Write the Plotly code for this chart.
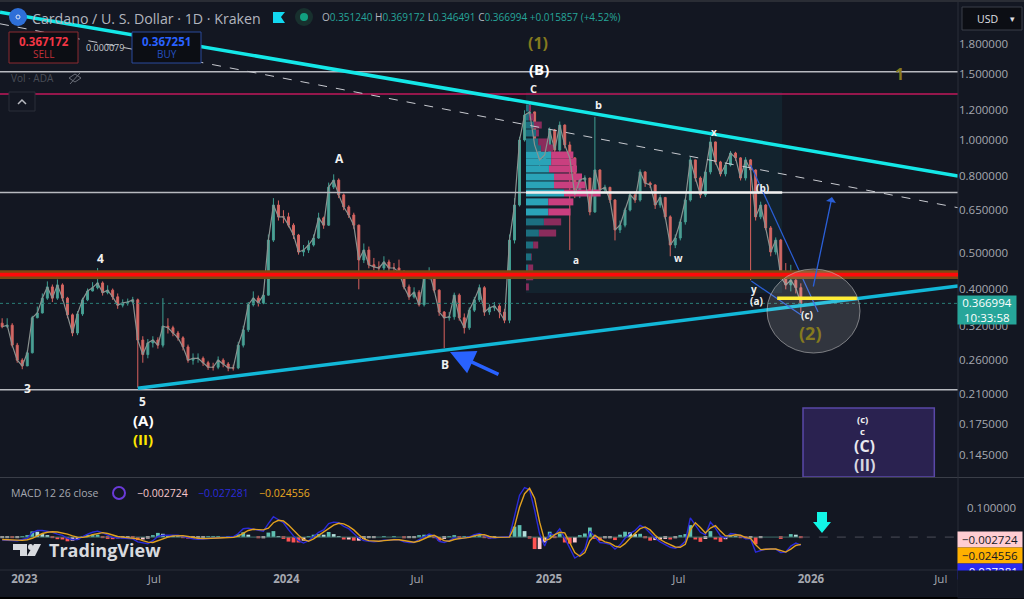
import pandas as pd
import plotly.graph_objects as go

BG = "#131722"
FONT = "Open Sans"
AXIS_TEXT = "#a5a8b0"

# weekly candles
first_week = "2022-12-01"
closes = [
    .318, .321, .284, .259, .250, .271, .336, .346, .379, .406,
    .379, .411, .379, .342, .306, .344, .375, .396, .404, .416,
    .392, .398, .382, .363, .368, .370, .375, .293, .268, .288,
    .293, .284, .319, .316, .306, .297, .281, .259, .262, .262,
    .255, .248, .248, .259, .253, .247, .247, .284, .312, .364,
    .379, .368, .386, .541, .671, .624, .624, .593, .558, .503,
    .509, .525, .548, .620, .593, .749, .782, .714, .663, .631,
    .593, .479, .509, .465, .459, .456, .473, .456, .456, .444,
    .406, .382, .393, .364, .429, .444, .398, .348, .336, .338,
    .386, .336, .316, .352, .375, .404, .348, .357, .361, .348,
    .331, .541, .671, 1.0, 1.165, 1.188, .970, .885, .912, 1.063,
    .940, 1.096, .970, .896, .714, .782, .792, .643, .832, .736,
    .748, .692, .576, .593, .651, .714, .692, .822, .768, .759,
    .671, .703, .624, .525, .548, .605, .692, .885, .792, .714,
    .822, .988, .874, .812, .858, .923, .896, .792, .885, .832,
    .624, .671, .583, .503, .541, .432, .411, .423, .404, .367,
]
highs = [
    .335, .335, .325, .288, .262, .275, .340, .360, .390, .420,
    .412, .425, .415, .382, .345, .350, .380, .402, .418, .456,
    .420, .410, .402, .390, .376, .378, .382, .378, .300, .295,
    .300, .298, .379, .335, .320, .310, .300, .285, .270, .270,
    .265, .258, .255, .265, .262, .256, .252, .290, .320, .370,
    .395, .385, .395, .560, .700, .690, .650, .640, .600, .562,
    .525, .540, .560, .640, .625, .770, .810, .790, .720, .670,
    .640, .595, .530, .520, .485, .475, .490, .480, .470, .480,
    .450, .412, .405, .398, .435, .458, .448, .400, .350, .348,
    .392, .390, .345, .358, .382, .412, .408, .365, .370, .365,
    .355, .560, .700, 1.02, 1.20, 1.255, 1.19, .970, .925, 1.08,
    1.07, 1.12, 1.10, .990, .900, .800, .805, .792, 1.152, .835,
    .760, .750, .695, .610, .660, .725, .730, .835, .825, .775,
    .762, .715, .705, .630, .560, .615, .700, .900, .885, .800,
    .830, 1.02, .990, .880, .870, .935, .930, .900, .900, .890,
    .835, .685, .675, .590, .550, .545, .470, .465, .430, .415,
]
lows = [
    .315, .316, .280, .255, .245, .250, .270, .335, .345, .375,
    .370, .375, .372, .335, .300, .302, .340, .372, .395, .400,
    .385, .388, .375, .355, .358, .362, .365, .219, .255, .262,
    .280, .278, .280, .305, .300, .292, .275, .255, .252, .255,
    .250, .244, .243, .245, .248, .242, .243, .245, .280, .308,
    .360, .360, .365, .385, .535, .610, .600, .585, .545, .495,
    .490, .500, .520, .545, .580, .590, .740, .700, .650, .620,
    .580, .400, .470, .455, .450, .445, .450, .445, .445, .435,
    .400, .375, .378, .360, .360, .425, .392, .340, .279, .330,
    .332, .330, .305, .312, .348, .370, .340, .342, .350, .335,
    .325, .325, .530, .665, .990, 1.13, .950, .850, .870, .905,
    .925, .930, .950, .509, .700, .700, .770, .630, .640, .725,
    .725, .680, .540, .565, .585, .645, .680, .685, .750, .745,
    .655, .660, .615, .490, .515, .540, .595, .685, .775, .700,
    .705, .810, .860, .800, .800, .850, .880, .780, .780, .423,
    .610, .615, .575, .490, .495, .425, .400, .395, .390, .346,
]
opens = [.325] + closes[:-1]

macd_line = [
    -.010, -.010, -.012, -.012, -.008, -.004, .015, .022, .022, .020,
    .016, .010, .006, -.004, -.008, -.008, .002, .010, .016, .020,
    .014, .006, -.001, -.002, -.003, -.004, -.006, -.016, -.020, -.022,
    -.012, .002, .006, .006, .008, .006, .002, -.003, -.006, -.007,
    -.006, -.004, -.003, -.002, -.002, -.001, .001, .012, .028, .030,
    .026, .022, .020, .045, .068, .058, .048, .025, .004, -.012,
    -.020, -.012, .002, .016, .024, .045, .050, .048, .036, .028,
    .012, -.004, -.012, -.014, -.016, -.014, -.010, -.010, -.008, -.009,
    -.016, -.018, -.018, -.008, .002, .010, .004, -.014, -.018, -.012,
    -.002, -.006, -.003, .001, .008, .012, .006, -.003, -.002, -.001,
    .000, .002, .070, .140, .165, .158, .090, .010, -.030, .012,
    .006, .028, -.004, -.040, -.070, -.060, -.040, .020, .000, -.018,
    -.020, -.024, -.040, -.026, -.004, .012, .022, .039, .030, .012,
    -.004, -.016, -.024, -.034, -.037, -.030, -.014, .064, .040, .016,
    .008, .050, .030, .004, -.003, .012, .010, .004, -.006, -.006,
    -.050, -.044, -.040, -.040, -.040, -.052, -.050, -.030, -.020, -.027281,
]
signal_line = [
    -.008, -.009, -.010, -.011, -.011, -.009, -.004, .004, .012, .016,
    .018, .017, .014, .010, .004, .000, -.001, .002, .008, .012,
    .015, .012, .006, .002, .000, -.002, -.003, -.006, -.012, -.017,
    -.018, -.012, -.005, .000, .004, .005, .005, .002, -.002, -.004,
    -.005, -.005, -.004, -.003, -.002, -.002, -.001, .003, .012, .022,
    .026, .026, .024, .030, .048, .056, .054, .040, .022, .006,
    -.008, -.014, -.006, .006, .016, .028, .040, .046, .044, .036,
    .024, .008, -.006, -.012, -.014, -.014, -.012, -.010, -.009, -.009,
    -.012, -.015, -.017, -.013, -.006, .002, .006, -.002, -.012, -.014,
    -.008, -.005, -.004, -.001, .004, .008, .008, .002, -.001, -.001,
    .000, .000, .035, .100, .145, .163, .130, .050, -.012, -.006,
    .008, .016, .014, -.018, -.052, -.064, -.052, -.012, .006, -.006,
    -.016, -.020, -.030, -.034, -.022, -.004, .012, .028, .034, .024,
    .006, -.008, -.018, -.026, -.033, -.034, -.024, .024, .048, .032,
    .014, .030, .038, .020, .004, .004, .008, .006, -.002, -.004,
    -.026, -.042, -.040, -.040, -.040, -.046, -.050, -.040, -.028, -.024556,
]

# fixed range volume profile, rows top to bottom, width in days on the time axis
vp_prices = [1.217, 1.151, 1.096, 1.044, .988, .952, .912, .874, .837, .797, .759,
             .722, .684, .643, .605, .565, .525, .488, .456, .432, .406]
vp_up = [4, 4, 11, 14, 17, 21, 35, 35, 32, 39, 39, 53, 31, 31, 25, 18, 10, 7, 3, 0, 0]
vp_down = [3, 7, 11, 4, 15, 17, 31, 35, 39, 39, 44, 51, 35, 31, 24, 24, 7, 1, 7, 10, 4]
vp_start = "2024-11-30"
vp_end = "2025-11-22"

price_ticks = [1.8, 1.5, 1.2, 1.0, .8, .65, .5, .4, .32, .26, .21, .175, .145]
time_ticks = ["2023-01-01", "2023-07-01", "2024-01-01", "2024-07-01",
              "2025-01-01", "2025-07-01", "2026-01-01", "2026-07-01"]
time_labels = ["<b>2023</b>", "Jul", "<b>2024</b>", "Jul", "<b>2025</b>", "Jul", "<b>2026</b>", "Jul"]

start, end = "2022-11-28", "2026-07-25"
upper_trend_dates, upper_trend_prices = [start, end], [2.19, .802]
dashed_trend_dates, dashed_trend_prices = [start, end], [2.04, .66]
lower_trend_dates, lower_trend_prices = ["2023-06-08", end], [.218, .408]
level_prices = [1.52, .725, .216]
pink_level = 1.326
yellow_dates, yellow_prices = ["2025-11-15", "2026-03-06"], [.379, .379]
path1_dates, path1_prices = ["2025-10-10", "2025-12-18"], [.421, .342]
path2_dates, path2_prices = ["2025-10-09", "2026-01-11"], [.858, .348]
box_dates, box_prices = ["2025-12-21", "2026-06-22"], [.1265, .193]
last_price = .366994

weeks = pd.date_range(first_week, periods=len(closes), freq="7D")
hist = [m - s for m, s in zip(macd_line, signal_line)]
hist_colors = []
for i, h in enumerate(hist):
    rising = i == 0 or h >= hist[i - 1]
    if h >= 0:
        hist_colors.append("#5fc0b2" if rising else "#b2dfdb")
    else:
        hist_colors.append("#ffcdd2" if rising else "#ff5252")


def px_x(x):
    return x / 958


def px_y(y):
    return (570 - y) / 567


def path(points, close=True):
    d = "M" + " L".join(f"{px_x(x):.5f},{px_y(y):.5f}" for x, y in points)
    return d + (" Z" if close else "")


def vp_segments(lo, hi, up):
    xs, ys = [], []
    for i in range(lo, hi):
        a = pd.Timestamp(vp_start) + pd.Timedelta(days=0 if up else vp_up[i])
        b = pd.Timestamp(vp_start) + pd.Timedelta(days=vp_up[i] if up else vp_up[i] + vp_down[i])
        xs += [a, b, None]
        ys += [vp_prices[i], vp_prices[i], None]
    return xs, ys


fig = go.Figure()


def line(x, y, color, width, dash="solid", yaxis="y", xaxis="x"):
    fig.add_trace(go.Scatter(x=x, y=y, mode="lines", line=dict(color=color, width=width, dash=dash),
                             xaxis=xaxis, yaxis=yaxis, hoverinfo="skip"))


# volume profile goes under the candles
for lo, hi, up, color in [(0, 6, True, "#1c6f80"), (6, 14, True, "#2aa3b8"), (14, 21, True, "#1c6f80"),
                          (0, 6, False, "#8a2c5c"), (6, 14, False, "#c93f7f"), (14, 21, False, "#8a2c5c")]:
    xs, ys = vp_segments(lo, hi, up)
    line(xs, ys, color, 7)

line(weeks, closes, "#8a9290", 1.2)
fig.add_trace(go.Candlestick(x=weeks, open=opens, high=highs, low=lows, close=closes,
                             increasing=dict(line=dict(color="#3f9f92", width=1), fillcolor="#5a9c94"),
                             decreasing=dict(line=dict(color="#d9625e", width=1), fillcolor="#c9706c"),
                             hoverinfo="skip"))

line([start, end], [last_price, last_price], "#2a7f78", 1, "dot")
for p in level_prices:
    line([start, end], [p, p], "#b8bac0", 1.5)
line([start, end], [pink_level, pink_level], "#c2185b", 1.5)
line([vp_start, vp_end], [.725, .725], "#f0f0f0", 2.5)
line(dashed_trend_dates, dashed_trend_prices, "#c8cad0", 1, "dash")
line(upper_trend_dates, upper_trend_prices, "#14e8e8", 3.5)
line(lower_trend_dates, lower_trend_prices, "#12b8d8", 3.5)
line(path1_dates, path1_prices, "#2a5fd8", 1.2)
line(path2_dates, path2_prices, "#2a5fd8", 1.2)
line(yellow_dates, yellow_prices, "#ffeb1a", 3.5)

fig.add_trace(go.Bar(x=weeks, y=hist, marker=dict(color=hist_colors, line=dict(width=0)),
                     xaxis="x2", yaxis="y2", hoverinfo="skip"))
line([weeks[-1], end], [0, 0], "#4a4e58", 1, "dash", "y2", "x2")
line([start, weeks[-1]], [0, 0], "#3f6f6a", 1, "solid", "y2", "x2")
line(weeks, macd_line, "#2b2bd8", 1.4, "solid", "y2", "x2")
line(weeks, signal_line, "#e0a020", 1.4, "solid", "y2", "x2")

shapes = [
    # right scale pane and borders
    dict(type="rect", xref="paper", yref="paper", x0=px_x(0), x1=px_x(1024), y0=px_y(597), y1=px_y(599),
         fillcolor="#000000", line_width=0),
    dict(type="rect", xref="paper", yref="paper", x0=px_x(0), x1=px_x(1024), y0=px_y(0), y1=px_y(2),
         fillcolor="#2a2d35", line_width=0),
    dict(type="line", xref="paper", yref="paper", x0=px_x(0), x1=px_x(1024), y0=px_y(477.5), y1=px_y(477.5),
         line=dict(color="#3a3e48", width=1)),
    dict(type="line", xref="paper", yref="paper", x0=px_x(0), x1=px_x(1024), y0=px_y(570), y1=px_y(570),
         line=dict(color="#2a2e39", width=1)),
    dict(type="line", xref="paper", yref="paper", x0=px_x(958), x1=px_x(958), y0=px_y(2), y1=px_y(597),
         line=dict(color="#2a2e39", width=1)),
    # profile background and support band
    dict(type="rect", xref="x", yref="y", x0=vp_start, x1=vp_end, y0=.391, y1=1.342, layer="below",
         fillcolor="#13232e", line_width=0),
    dict(type="rect", xref="x", yref="y", x0=start, x1=end, y0=.426, y1=.450,
         fillcolor="#7d4a14", line_width=0),
    dict(type="rect", xref="x", yref="y", x0=start, x1=end, y0=.433, y1=.443,
         fillcolor="#ff0a0a", line_width=0),
    # target box and circle
    dict(type="rect", xref="x", yref="y", x0=box_dates[0], x1=box_dates[1], y0=box_prices[0], y1=box_prices[1],
         fillcolor="#2a2250", line=dict(color="#5a48a8", width=1.5)),
    dict(type="circle", xref="paper", yref="paper", x0=px_x(767), x1=px_x(860), y0=px_y(353), y1=px_y(269),
         fillcolor="rgba(255,255,255,0.13)", line=dict(color="rgba(200,200,200,0.55)", width=1)),
    # cyan arrow over macd
    dict(type="path", xref="paper", yref="paper", fillcolor="#12f5e5", line_width=0,
         path=path([(817, 512), (827, 512), (827, 522), (831, 522), (822, 533), (813, 522), (817, 522)])),
    # top left icons
    dict(type="circle", xref="paper", yref="paper", x0=px_x(9), x1=px_x(27), y0=px_y(26), y1=px_y(8),
         fillcolor="#2e6fd8", line_width=0),
    dict(type="circle", xref="paper", yref="paper", x0=px_x(16), x1=px_x(20), y0=px_y(19), y1=px_y(15),
         fillcolor="rgba(0,0,0,0)", line=dict(color="#d8e4f8", width=1)),
    dict(type="path", xref="paper", yref="paper", fillcolor="#12d8f0", line_width=0,
         path=path([(273, 12), (285, 12), (281, 17), (285, 23), (273, 23)])),
    dict(type="circle", xref="paper", yref="paper", x0=px_x(295), x1=px_x(313), y0=px_y(26), y1=px_y(8),
         fillcolor="#18302e", line_width=0),
    dict(type="circle", xref="paper", yref="paper", x0=px_x(300), x1=px_x(308), y0=px_y(21), y1=px_y(13),
         fillcolor="#12a080", line_width=0),
    dict(type="rect", xref="paper", yref="paper", x0=px_x(9), x1=px_x(78), y0=px_y(63), y1=px_y(32),
         fillcolor="#0c0e14", line=dict(color="#8c2a30", width=1)),
    dict(type="rect", xref="paper", yref="paper", x0=px_x(132), x1=px_x(201), y0=px_y(63), y1=px_y(32),
         fillcolor="#0c0e14", line=dict(color="#2a4a9c", width=1)),
    dict(type="rect", xref="paper", yref="paper", x0=px_x(9), x1=px_x(35), y0=px_y(111), y1=px_y(92),
         fillcolor=BG, line=dict(color="#2a2e39", width=1)),
    dict(type="path", xref="paper", yref="paper", line=dict(color="#b8bac0", width=1.5),
         path=path([(18, 104), (22, 100), (26, 104)], close=False)),
    # hidden volume eye
    dict(type="path", xref="paper", yref="paper", line=dict(color="#6a6e78", width=1),
         path=path([(69, 78), (75, 74), (81, 78), (75, 82)])),
    dict(type="path", xref="paper", yref="paper", line=dict(color="#6a6e78", width=1),
         path=path([(70, 84), (80, 73)], close=False)),
    # usd box
    dict(type="rect", xref="paper", yref="paper", x0=px_x(962), x1=px_x(1022), y0=px_y(30), y1=px_y(7),
         fillcolor="#0c0e14", line=dict(color="#3a3e48", width=1)),
    # watermark logo
    dict(type="path", xref="paper", yref="paper", fillcolor="#d8dadf", line_width=0,
         path=path([(13, 544), (27, 544), (27, 556), (20, 556), (20, 550), (13, 550)])),
    dict(type="circle", xref="paper", yref="paper", x0=px_x(28), x1=px_x(33), y0=px_y(550), y1=px_y(544),
         fillcolor="#d8dadf", line_width=0),
    dict(type="path", xref="paper", yref="paper", fillcolor="#d8dadf", line_width=0,
         path=path([(34, 544), (41, 544), (35, 556), (27, 556)])),
    # settings icon
    dict(type="path", xref="paper", yref="paper", line=dict(color="#a5a8b0", width=1),
         path=path([(985, 582), (988.5, 576), (995.5, 576), (999, 582), (995.5, 588), (988.5, 588)])),
    dict(type="circle", xref="paper", yref="paper", x0=px_x(989.5), x1=px_x(994.5), y0=px_y(584.5), y1=px_y(579.5),
         line=dict(color="#a5a8b0", width=1)),
    # macd loop icon
    dict(type="circle", xref="paper", yref="paper", x0=px_x(113), x1=px_x(125), y0=px_y(499), y1=px_y(487),
         line=dict(color="#6a3ad8", width=2)),
]

annotations = []


def label(x, y, text, size=12, color="#f0f0f0", anchor="center", bold=False, **kw):
    annotations.append(dict(xref="paper", yref="paper", x=px_x(x), y=px_y(y), text=f"<b>{text}</b>" if bold else text,
                            showarrow=False, xanchor=anchor, yanchor="middle",
                            font=dict(family=FONT, size=size, color=color), **kw))


def spans(parts):
    return "".join(f'<span style="color:{c}">{t}</span>' for t, c in parts)


# wave counts
olive = "#857a1e"
for x, y, text, size, color in [
    (538, 43, "(1)", 16, olive), (899, 74, "1", 16, olive), (810, 333, "(2)", 18, olive),
    (539, 69, "(B)", 15, "#ffffff"), (533, 88, "C", 11, "#f0f0f0"), (598, 104, "b", 11, "#f0f0f0"),
    (714, 132, "x", 10, "#f0f0f0"), (576, 260, "a", 10, "#f0f0f0"), (678, 258, "w", 10, "#f0f0f0"),
    (762, 188, "(b)", 10, "#f0f0f0"), (754, 289, "y", 10, "#f0f0f0"), (756, 301, "(a)", 10, "#f0f0f0"),
    (807, 315, "(c)", 10, "#f0f0f0"), (339, 158, "A", 12, "#f0f0f0"), (100, 258, "4", 12, "#f0f0f0"),
    (27, 388, "3", 12, "#f0f0f0"), (142, 401, "5", 12, "#f0f0f0"), (143, 420, "(A)", 15, "#ffffff"),
    (143, 439, "(II)", 15, "#ffe600"), (445, 364, "B", 12, "#f0f0f0"), (862, 419, "(c)", 9.5, "#f0f0f0"),
    (862, 431, "c", 9.5, "#f0f0f0"), (864, 446, "(C)", 16, "#e8e8ee"), (864, 465, "(II)", 16, "#d8d8e0"),
]:
    label(x, y, text, size, color, bold=True)

# header legend
label(30, 18, "Cardano / U. S. Dollar · 1D · Kraken", 14.2, "#b2b5be", "left")
teal, grey = "#26a69a", "#b2b5be"
label(320, 17, spans([("O", grey), ("0.351240", teal), (" H", grey), ("0.369172", teal), (" L", grey), ("0.346491", teal),
                      (" C", grey), ("0.366994", teal), (" +0.015857 (+4.52%)", teal)]), 10, teal, "left")
label(43.5, 41, "0.367172", 11.5, "#f23645", bold=True)
label(43.5, 54, "SELL", 10, "#c23038")
label(166.5, 41, "0.367251", 11.5, "#2962ff", bold=True)
label(166.5, 54, "BUY", 10, "#2450c0")
label(105, 47, "0.000079", 9, "#c8cad0")
label(9, 78, "Vol · ADA", 10, "#4a4e58", "left")
label(975, 18.5, "USD", 10.5, "#e0e0e6", "left")
label(1012, 18.5, "▾", 9, "#e0e0e6")

# macd legend
label(9, 493, "MACD 12 26 close", 10.5, "#a5a8b0", "left")
label(135, 493, "−0.002724", 10.5, "#f8c8cc", "left")
label(196, 493, "−0.027281", 10.5, "#2b2bd8", "left")
label(257, 493, "−0.024556", 10.5, "#e8a820", "left")
label(47, 550, "TradingView", 18, "#d8dadf", "left", bold=True)
label(992, 507, "0.100000", 11.5, AXIS_TEXT)

# scale boxes
label(987, 310, "0.366994<br>10:33:58", 11.5, "#ffffff", bgcolor="#26a69a", width=58, height=28, borderpad=0)
label(990, 539, "−0.002724", 11.5, "#131722", bgcolor="#ffcdd2", width=64, height=15, borderpad=0)
label(990, 555, "−0.024556", 11.5, "#131722", bgcolor="#ffb000", width=64, height=15, borderpad=0)
label(990, 571, "−0.027281", 11.5, "#ffffff", bgcolor="#2b2bf0", width=64, height=15, borderpad=0)
label(991, 584, " ", 8, BG, bgcolor=BG, width=66, height=27, borderpad=0)

# blue arrows
annotations.append(dict(xref="paper", yref="paper", x=px_x(832), y=px_y(197), ax=813 - 832, ay=288 - 197, axref="pixel",
                        ayref="pixel", text="", showarrow=True, arrowhead=1, arrowsize=1.3, arrowwidth=1.3,
                        arrowcolor="#2a5fd8"))
annotations.append(dict(xref="paper", yref="paper", x=px_x(450), y=px_y(352), ax=50, ay=23, axref="pixel", ayref="pixel",
                        text="", showarrow=True, arrowhead=2, arrowsize=1.4, arrowwidth=3.5, arrowcolor="#2962ff"))

fig.update_layout(
    width=1024, height=599, margin=dict(l=0, r=66, t=3, b=29, autoexpand=False),
    paper_bgcolor=BG, plot_bgcolor=BG, showlegend=False, bargap=0.25, boxgap=0.45,
    font=dict(family=FONT, color=AXIS_TEXT, size=12),
    xaxis=dict(domain=[0, 1], range=[start, end], rangeslider=dict(visible=False), showgrid=False, zeroline=False,
               showticklabels=False, ticks="", anchor="y"),
    xaxis2=dict(domain=[0, 1], range=[start, end], showgrid=False, zeroline=False, anchor="y2", tickmode="array",
                tickvals=time_ticks, ticktext=time_labels, ticks="", tickfont=dict(size=11.5, color=AXIS_TEXT, family=FONT)),
    yaxis=dict(domain=[.164, 1], type="log", range=[-.898, .365], side="right", showgrid=False, zeroline=False,
               tickmode="array", tickvals=price_ticks, ticktext=[f"{p:.6f}" for p in price_ticks], ticks="",
               tickfont=dict(size=11.5, color=AXIS_TEXT, family=FONT), anchor="x"),
    yaxis2=dict(domain=[0, .162], range=[-.11, .197], side="right", showgrid=False, zeroline=False, showticklabels=False,
                ticks="", anchor="x2"),
    shapes=shapes, annotations=annotations,
)

# the page keeps a default 8px body margin otherwise
fig.write_html("out.html", config={"displayModeBar": False},
               post_script="document.body.style.margin='0';document.body.style.background='#131722';")
